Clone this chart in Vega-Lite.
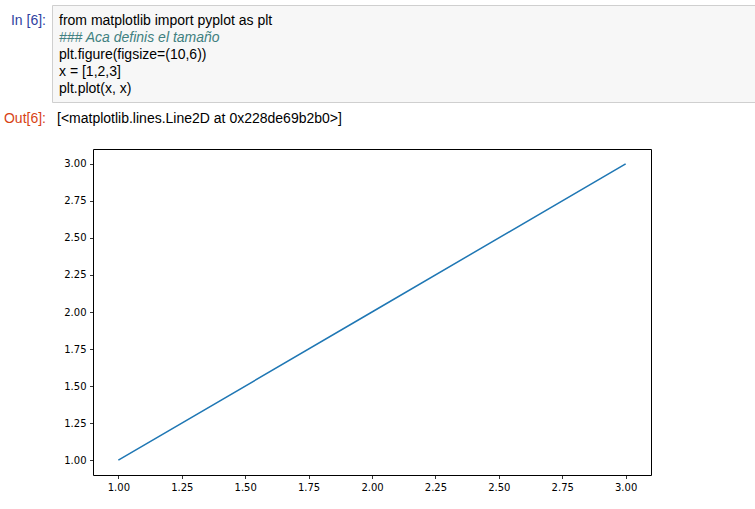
{
  "$schema": "https://vega.github.io/schema/vega-lite/v6.json",
  "background": "white",
  "padding": {"left": 0, "top": 4, "right": 0, "bottom": 0},
  "spacing": 4,
  "config": {"view": {"stroke": null}, "font": "Liberation Sans"},
  "vconcat": [
    {
      "spacing": 5,
      "hconcat": [
        {
          "width": 46,
          "height": 97,
          "data": {"values": [{"prompt": "In [6]:", "line": 1}]},
          "mark": {"type": "text", "align": "right", "baseline": "middle", "font": "Liberation Sans", "fontSize": 14, "color": "#303f9f"},
          "encoding": {
            "x": {"value": "width"},
            "y": {"field": "line", "type": "quantitative", "scale": {"domain": [1, 5], "range": [15.5, 83.5]}, "axis": null},
            "text": {"field": "prompt"}
          }
        },
        {
          "width": 704,
          "height": 97,
          "view": {"fill": "#f7f7f7", "stroke": "#cfcfcf", "strokeWidth": 1},
          "data": {"values": [
            {"line": 1, "code": "from matplotlib import pyplot as plt", "kind": "code"},
            {"line": 2, "code": "### Aca definis el tamaño", "kind": "comment"},
            {"line": 3, "code": "plt.figure(figsize=(10,6))", "kind": "code"},
            {"line": 4, "code": "x = [1,2,3]", "kind": "code"},
            {"line": 5, "code": "plt.plot(x, x)", "kind": "code"}
          ]},
          "layer": [
            {
              "transform": [{"filter": "datum.kind === 'code'"}],
              "mark": {"type": "text", "align": "left", "baseline": "middle", "dx": 7, "font": "Liberation Sans", "fontSize": 14, "color": "#000000"},
              "encoding": {
                "x": {"value": 0},
                "y": {"field": "line", "type": "quantitative", "scale": {"domain": [1, 5], "range": [15.5, 83.5]}, "axis": null},
                "text": {"field": "code"}
              }
            },
            {
              "transform": [{"filter": "datum.kind === 'comment'"}],
              "mark": {"type": "text", "align": "left", "baseline": "middle", "dx": 7, "font": "Liberation Sans", "fontSize": 14, "fontStyle": "italic", "color": "#408080"},
              "encoding": {
                "x": {"value": 0},
                "y": {"field": "line", "type": "quantitative", "scale": {"domain": [1, 5], "range": [15.5, 83.5]}, "axis": null},
                "text": {"field": "code"}
              }
            }
          ]
        }
      ]
    },
    {
      "spacing": 5,
      "hconcat": [
        {
          "width": 46,
          "height": 37,
          "data": {"values": [{"prompt": "Out[6]:"}]},
          "mark": {"type": "text", "align": "right", "baseline": "middle", "dy": -7, "font": "Liberation Sans", "fontSize": 14, "color": "#d84315"},
          "encoding": {"x": {"value": "width"}, "text": {"field": "prompt"}}
        },
        {
          "width": 704,
          "height": 37,
          "data": {"values": [{"out": "[<matplotlib.lines.Line2D at 0x228de69b2b0>]"}]},
          "mark": {"type": "text", "align": "left", "baseline": "middle", "dx": 6, "dy": -7, "font": "Liberation Sans", "fontSize": 14, "color": "#000000"},
          "encoding": {"x": {"value": 0}, "text": {"field": "out"}}
        }
      ]
    },
    {
      "spacing": 0,
      "hconcat": [
        {
          "width": 63,
          "height": 326,
          "data": {"values": []},
          "mark": {"type": "text"},
          "encoding": {}
        },
        {
          "width": 558,
          "height": 326,
          "view": {"fill": "white", "stroke": "#000000", "strokeWidth": 1},
          "data": {"values": [{"x": 1, "y": 1}, {"x": 2, "y": 2}, {"x": 3, "y": 3}]},
          "mark": {"type": "line", "color": "#1f77b4", "strokeWidth": 1.5},
          "encoding": {
            "x": {
              "field": "x", "type": "quantitative",
              "scale": {"domain": [0.9, 3.1], "nice": false, "zero": false},
              "axis": {"title": null, "values": [1, 1.25, 1.5, 1.75, 2, 2.25, 2.5, 2.75, 3], "format": ".2f", "grid": false, "domain": false, "tickColor": "#000000", "tickSize": 3.5, "tickWidth": 0.8, "labelFont": "DejaVu Sans", "labelFontSize": 10, "labelColor": "#000000", "labelPadding": 3.5, "labelFlush": false, "labelOverlap": false}
            },
            "y": {
              "field": "y", "type": "quantitative",
              "scale": {"domain": [0.9, 3.1], "nice": false, "zero": false},
              "axis": {"title": null, "values": [1, 1.25, 1.5, 1.75, 2, 2.25, 2.5, 2.75, 3], "format": ".2f", "grid": false, "domain": false, "tickColor": "#000000", "tickSize": 3.5, "tickWidth": 0.8, "labelFont": "DejaVu Sans", "labelFontSize": 10, "labelColor": "#000000", "labelPadding": 3.5, "labelFlush": false, "labelOverlap": false}
            }
          }
        }
      ]
    }
  ]
}
